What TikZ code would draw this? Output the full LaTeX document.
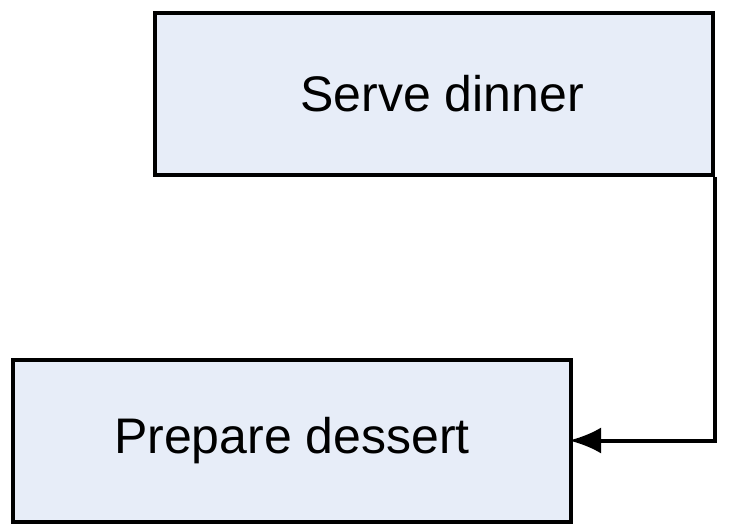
\documentclass[tikz,border=0pt]{standalone}
\usepackage{fontspec}
\setmainfont{Liberation Sans}
\usepackage{tikz}
\usetikzlibrary{arrows.meta}

\begin{document}
\begin{tikzpicture}[x=1pt,y=1pt,yscale=-1,
  stepbox/.style={draw,line width=4pt,fill={rgb,255:red,231;green,237;blue,248},
    minimum width=558pt,minimum height=162pt,inner sep=0pt,
    font=\fontsize{50}{60}\selectfont}]
\useasboundingbox (0,0) rectangle (734,532);

% Text Node
\node [stepbox] (dinner) at (434,94) {\hspace*{16pt}Serve dinner};
% Text Node
\node [stepbox] (dessert) at (292,440.5) {Prepare dessert};

%Straight Lines
\draw [line width=4pt,-{Latex[length=32pt,width=26pt]}] (dinner.south east) |- ([xshift=-4pt]dessert.east);

\end{tikzpicture}
\end{document}
